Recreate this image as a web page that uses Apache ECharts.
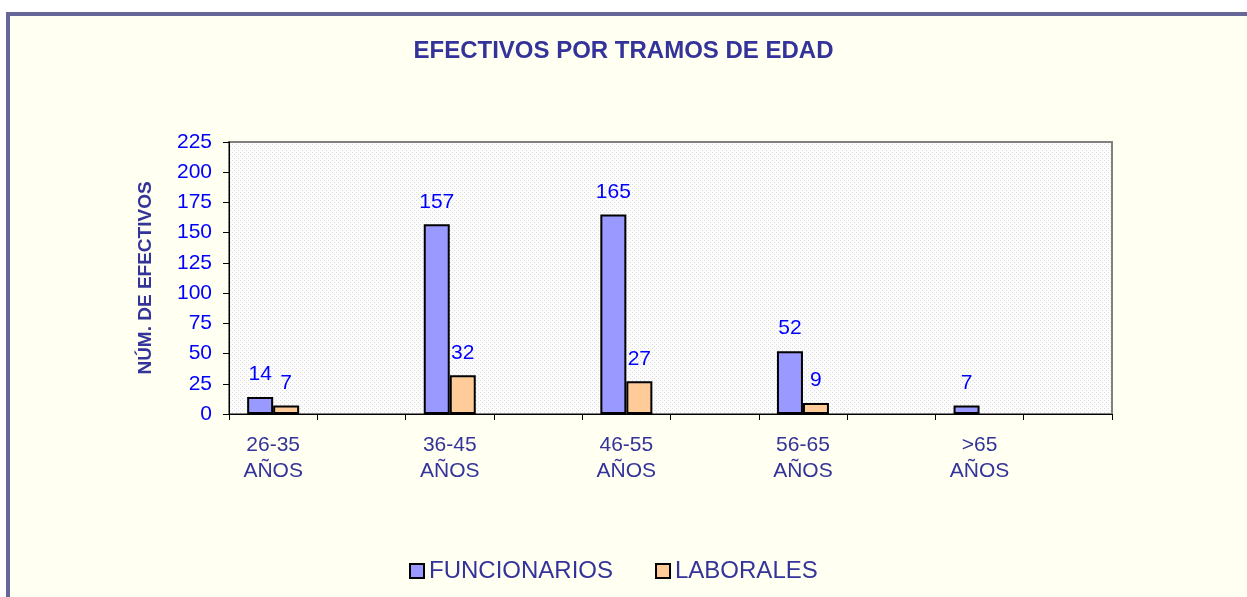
<!DOCTYPE html>
<html>
<head>
<meta charset="utf-8">
<script src="https://cdn.jsdelivr.net/npm/echarts@6/dist/echarts.min.js"></script>
<style>
  html, body { margin: 0; padding: 0; background: #fff; }
  #frame {
    position: absolute; left: 6px; top: 12px; width: 1260px; height: 600px;
    border-left: 4px solid #666699; border-top: 4px solid #666699;
    background: #FFFFF2;
  }
  #main { position: absolute; left: 0; top: 0; width: 1247px; height: 597px; }
</style>
</head>
<body>
<div id="frame"></div>
<div id="main"></div>
<script>
// categorias (las posiciones vacías separan los grupos, como en el original)
var categorias = ['26-35\nAÑOS', '', '36-45\nAÑOS', '', '46-55\nAÑOS', '', '56-65\nAÑOS', '', '>65\nAÑOS', ''];
var funcionarios = [14, null, 157, null, 165, null, 52, null, 7, null];
var laborales = [7, null, 32, null, 27, null, 9, null, null, null];
var yTicks = [0, 25, 50, 75, 100, 125, 150, 175, 200, 225];

// fondo punteado del área de trazado
var pat = document.createElement('canvas');
pat.width = 4; pat.height = 4;
var ctx = pat.getContext('2d');
ctx.fillStyle = '#FCFCFC';
ctx.fillRect(0, 0, 4, 4);
ctx.fillStyle = '#DDDDDD';
ctx.fillRect(0, 0, 1, 1);
ctx.fillRect(2, 2, 1, 1);

var myChart = echarts.init(document.getElementById('main'));
var labelStyle = {
    show: true,
    position: 'top',
    distance: 12,
    color: '#0000FF',
    fontSize: 21,
    fontFamily: 'Liberation Sans'
};
var option = {
    textStyle: { fontFamily: 'Liberation Sans' },
    title: {
        text: 'EFECTIVOS POR TRAMOS DE EDAD',
        left: 'center',
        top: 34,
        textStyle: { color: '#333399', fontSize: 24, fontWeight: 'bold', fontFamily: 'Liberation Sans' }
    },
    legend: {
        top: 554,
        left: 404,
        itemWidth: 14,
        itemHeight: 14,
        itemGap: 42,
        icon: 'rect',
        textStyle: { color: '#333399', fontSize: 24 },
        data: ['FUNCIONARIOS', 'LABORALES']
    },
    grid: {
        left: 229,
        right: 135,
        top: 142,
        bottom: 183,
        show: true,
        backgroundColor: { image: pat, repeat: 'repeat' },
        borderColor: '#808080',
        borderWidth: 2
    },
    xAxis: {
        type: 'category',
        data: categorias,
        axisLine: { lineStyle: { color: '#000', width: 1 } },
        axisTick: { show: true, length: 6, alignWithLabel: false, interval: 0, lineStyle: { color: '#000' } },
        axisLabel: {
            interval: 0,
            color: '#333399',
            fontSize: 21,
            lineHeight: 26,
            margin: 18,
            align: 'center'
        }
    },
    yAxis: {
        type: 'value',
        min: 0,
        max: 225,
        interval: 25,
        name: 'NÚM. DE EFECTIVOS',
        nameLocation: 'middle',
        nameGap: 74,
        nameTextStyle: { color: '#333399', fontSize: 19, fontWeight: 'bold' },
        axisLine: { show: true, lineStyle: { color: '#000', width: 1 } },
        axisTick: { show: true, length: 6, lineStyle: { color: '#000' } },
        splitLine: { show: false },
        axisLabel: {
            color: '#0000FF',
            fontSize: 21,
            margin: 17,
            formatter: function (v) { return yTicks.indexOf(v) >= 0 ? String(v) : ''; }
        }
    },
    series: [{
        name: 'FUNCIONARIOS',
        type: 'bar',
        data: funcionarios,
        barWidth: 26,
        barGap: '0%',
        itemStyle: { color: '#9999FF', borderColor: '#000', borderWidth: 2 },
        label: labelStyle
    }, {
        name: 'LABORALES',
        type: 'bar',
        data: laborales,
        barWidth: 26,
        barGap: '0%',
        itemStyle: { color: '#FFCC99', borderColor: '#000', borderWidth: 2 },
        label: labelStyle
    }]
};
myChart.setOption(option);
</script>
</body>
</html>
